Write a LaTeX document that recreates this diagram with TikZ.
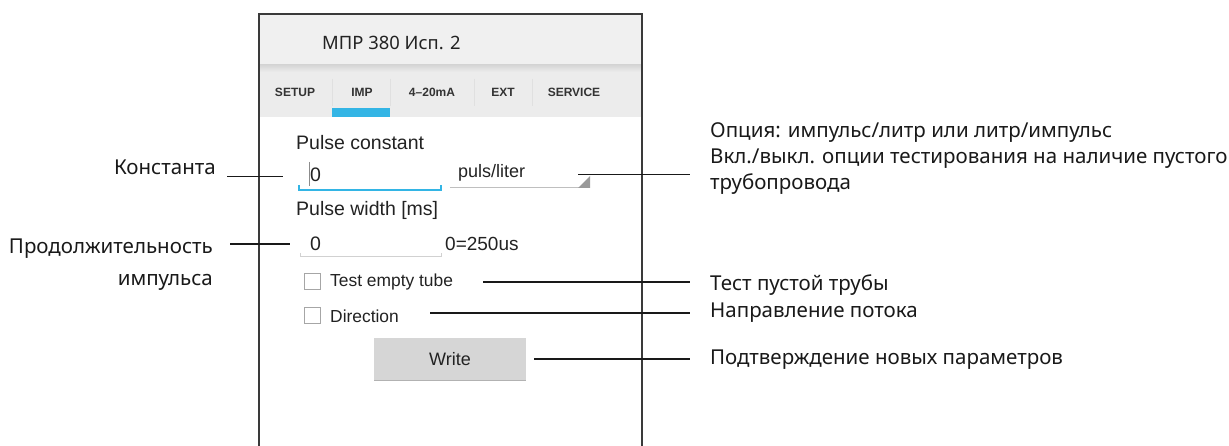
\documentclass[tikz,border=0pt]{standalone}
\usepackage{fontspec}
\setmainfont{Noto Sans}
\newfontfamily\uifont{Liberation Sans}
\usetikzlibrary{positioning}
\definecolor{frameline}{HTML}{3A3A3A}
\definecolor{headbg}{HTML}{F0F0F0}
\definecolor{tabbg}{HTML}{ECECEC}
\definecolor{holoblue}{HTML}{33B5E5}
\definecolor{uitext}{HTML}{222222}
\definecolor{btnfill}{HTML}{D6D6D6}

\begin{document}
\begin{tikzpicture}[
    x=1pt, y=-1pt,
    label/.style={inner sep=0pt, font=\fontsize{20.5}{26}\selectfont, text=black!90},
    uilabel/.style={inner sep=0pt, font=\uifont\fontsize{19.5}{20}\selectfont, text=uitext},
    uismall/.style={inner sep=0pt, font=\uifont\fontsize{17.4}{18}\selectfont, text=uitext},
    tab/.style={inner sep=0pt, font=\uifont\bfseries\fontsize{12}{14}\selectfont, text=black!80},
    field/.style={inner sep=0pt, minimum width=142pt, minimum height=27pt},
    checkbox/.style={draw=black!35, line width=1pt, minimum size=16pt, inner sep=0pt},
    leader/.style={draw=black!90, line width=1.2pt}
]
    \useasboundingbox (0,0) rectangle (1229,446);

    % phone screen
    \fill[headbg] (260,15) rectangle (641,65);
    \shade[top color=black!16, bottom color=tabbg] (260,65) rectangle (641,72);
    \fill[tabbg] (260,72) rectangle (641,117);
    \draw[frameline, line width=2pt] (259,446) -- (259,14) -- (642,14) -- (642,446);

    \node[uilabel, anchor=west, font=\fontsize{18.4}{20}\selectfont] (title) at (322,43) {МПР 380 Исп. 2};

    % tabs
    \node[tab] (tsetup) at (295,92) {SETUP};
    \node[tab] (timp) at (362,92) {IMP};
    \node[tab] (tma) at (432,92) {4–20mA};
    \node[tab] (text) at (503,92) {EXT};
    \node[tab] (tservice) at (574,92) {SERVICE};
    \foreach \sx in {332,390,474,532}
        \draw[black!12, line width=0.8pt] (\sx,79) -- (\sx,106);
    \fill[holoblue] (332,108) rectangle (390,117);

    % pulse constant
    \node[uilabel, anchor=west] (pclabel) at (296,143) {Pulse constant};
    \node[field, anchor=north west] (fieldone) at (299,163) {};
    \node[uilabel, anchor=west] (valone) at (310,175) {0};
    \draw[black!45, line width=0.8pt] (309,162) -- (309,186);
    \draw[holoblue, line width=1.5pt] (299,185) -- (299,190) -- (441,190) -- (441,185);
    \node[inner sep=0pt, minimum width=140pt, minimum height=28pt, anchor=north west] (dropdown) at (450,160) {};
    \node[uismall, anchor=west, font=\uifont\fontsize{18}{18}\selectfont] (unit) at (458,173) {puls/liter};
    \draw[black!25, line width=1pt] (450,188) -- (590,188);
    \fill[black!40] (578,188) -- (590,188) -- (590,176) -- cycle;

    % pulse width
    \node[uilabel, anchor=west] (pwlabel) at (296,210) {Pulse width [ms]};
    \node[field, anchor=north west] (fieldtwo) at (299,232) {};
    \node[uilabel, anchor=west] (valtwo) at (310,244) {0};
    \draw[black!18, line width=1pt] (300,253) -- (300,257) -- (441,257) -- (441,253);
    \node[uilabel, anchor=west, font=\uifont\fontsize{19}{20}\selectfont] (range) at (445,244) {0=250us};

    % checkboxes
    \node[checkbox] (cbtest) at (312.5,282) {};
    \node[uismall, anchor=west] (testlabel) at (330,282) {Test empty tube};
    \node[checkbox] (cbdir) at (312.5,316) {};
    \node[uismall, anchor=west] (dirlabel) at (330,316) {Direction};

    % write button
    \fill[black!30] (374,339) rectangle (526,381);
    \node[fill=btnfill, minimum width=152pt, minimum height=42pt, inner sep=0pt,
          font=\uifont\fontsize{18}{18}\selectfont, text=uitext] (write) at (450,359) {Write};

    % annotations, left
    \node[label, anchor=east] (lkonst) at (216,167) {Константа};
    \node[label, anchor=north east, align=right, font=\fontsize{20.5}{32}\selectfont] (lprod) at (213,239) {Продолжительность\\импульса};

    % annotations, right
    \node[label, anchor=west] (ropt) at (710,133) {Опция: импульс/литр или литр/импульс};
    \node[label, anchor=north west, align=left] (rempty) at (710,149) {Вкл./выкл. опции тестирования на наличие пустого\\трубопровода};
    \node[label, anchor=west] (rtest) at (710,285) {Тест пустой трубы};
    \node[label, anchor=west] (rdir) at (710,313) {Направление потока};
    \node[label, anchor=west] (rwrite) at (710,360) {Подтверждение новых параметров};

    % leader lines
    \draw[leader] ([xshift=11pt]lkonst.east |- fieldone.west) -- ([xshift=-16pt]fieldone.west);
    \draw[leader] ([xshift=17pt]lprod.north east |- valtwo.west) -- ([xshift=-9pt]fieldtwo.west |- valtwo.west);
    \draw[leader] ([xshift=-12pt]dropdown.east) -- ([xshift=-20pt]rempty.north west |- dropdown.east);
    \draw[leader] ([xshift=30pt]testlabel.east) -- ([xshift=-20pt]rtest.west |- testlabel.east);
    \draw[leader] ([xshift=31pt,yshift=3pt]dirlabel.east) -- ([xshift=-20pt]rdir.west);
    \draw[leader] ([xshift=8pt]write.east) -- ([xshift=-20pt]rwrite.west |- write.east);
\end{tikzpicture}
\end{document}
